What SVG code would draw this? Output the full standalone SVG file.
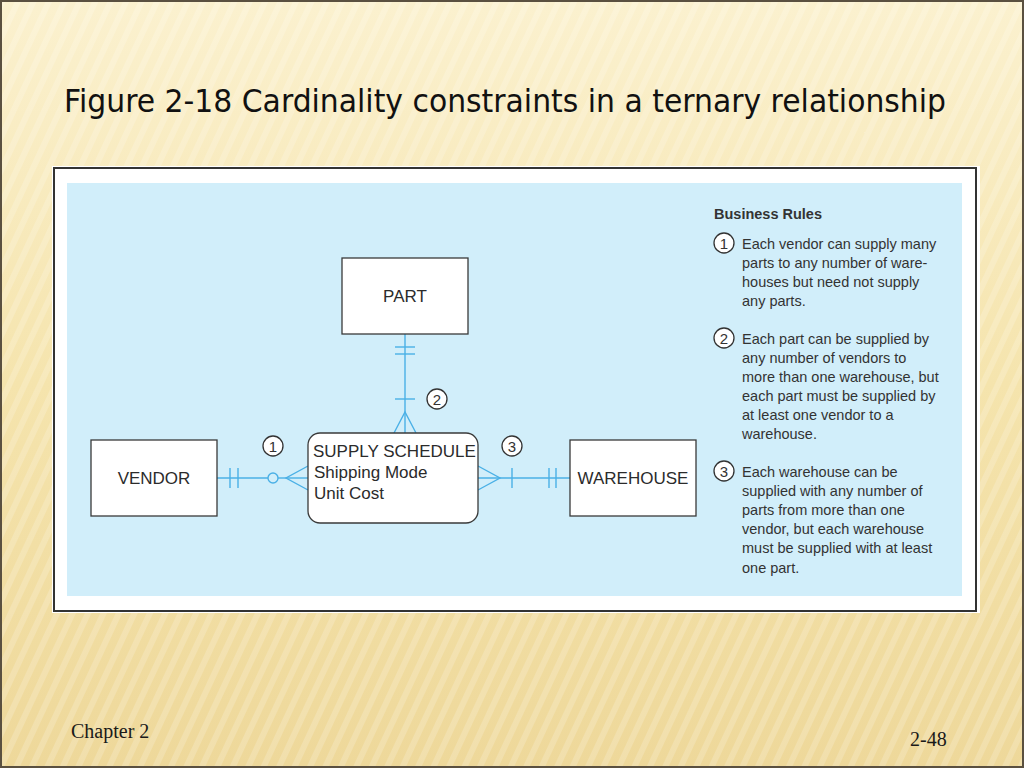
<svg xmlns="http://www.w3.org/2000/svg" width="1024" height="768" viewBox="0 0 1024 768">
<defs>
<linearGradient id="bg" x1="0" y1="0" x2="0" y2="1">
<stop offset="0" stop-color="#fbf1cf"/>
<stop offset="0.5" stop-color="#f5e4ad"/>
<stop offset="1" stop-color="#eed89a"/>
</linearGradient>
<pattern id="stripes" width="14" height="14" patternUnits="userSpaceOnUse" patternTransform="rotate(25)">
<rect width="6" height="14" fill="#ffffff" opacity="0.18"/>
</pattern>
<style>
.ent{fill:#ffffff;stroke:#3a3a3a;stroke-width:1.3}
.lbl{font-family:"Liberation Sans",Arial,sans-serif;font-size:17px;fill:#2b2b2b}
.con{stroke:#4ab0e6;stroke-width:1.4;fill:none}
.num{fill:#ffffff;stroke:#333333;stroke-width:1.3}
.numt{font-family:"Liberation Sans",Arial,sans-serif;font-size:15px;fill:#333333;text-anchor:middle}
.rule{font-family:"Liberation Sans",Arial,sans-serif;font-size:14.5px;fill:#333333}
.foot{font-family:"Liberation Serif","Times New Roman",serif;font-size:20px;fill:#1a1a1a}
</style>
</defs>
<rect width="1024" height="768" fill="url(#bg)"/>
<rect width="1024" height="768" fill="url(#stripes)"/>
<rect x="1" y="1" width="1022" height="766" fill="none" stroke="#5a5040" stroke-width="2"/>
<text x="64" y="112" font-family="DejaVu Sans,Verdana,sans-serif" font-size="32" fill="#111111" textLength="882" lengthAdjust="spacingAndGlyphs">Figure 2-18 Cardinality constraints in a ternary relationship</text>
<rect x="52" y="166" width="928" height="447" fill="#ffffff"/>
<rect x="54" y="168" width="922" height="443" fill="#ffffff" stroke="#333333" stroke-width="2"/>
<rect x="67" y="183" width="895" height="413" fill="#d1eefa"/>
<g id="connectors">
<g id="c-part">
<line class="con" x1="405" y1="334" x2="405" y2="433"/>
<line class="con" x1="395" y1="347" x2="415" y2="347"/>
<line class="con" x1="395" y1="354" x2="415" y2="354"/>
<line class="con" x1="395" y1="399" x2="415" y2="399"/>
<polyline class="con" points="394,433 405,412 416,433"/>
</g>
<g id="c-vendor">
<line class="con" x1="217" y1="478" x2="268" y2="478"/>
<line class="con" x1="278" y1="478" x2="308" y2="478"/>
<line class="con" x1="230" y1="468" x2="230" y2="488"/>
<line class="con" x1="238" y1="468" x2="238" y2="488"/>
<circle class="con" cx="273" cy="478" r="5"/>
<polyline class="con" points="308,466 286,478 308,490"/>
</g>
<g id="c-warehouse">
<line class="con" x1="478" y1="478" x2="570" y2="478"/>
<polyline class="con" points="478,466 500,478 478,490"/>
<line class="con" x1="512" y1="468" x2="512" y2="488"/>
<line class="con" x1="549" y1="468" x2="549" y2="488"/>
<line class="con" x1="556" y1="468" x2="556" y2="488"/>
</g>
</g>
<g id="part">
<rect class="ent" x="342" y="258" width="126" height="76"/>
<text class="lbl" x="405" y="302" text-anchor="middle">PART</text>
</g>
<g id="vendor">
<rect class="ent" x="91" y="440" width="126" height="76"/>
<text class="lbl" x="154" y="484" text-anchor="middle">VENDOR</text>
</g>
<g id="warehouse">
<rect class="ent" x="570" y="440" width="126" height="76"/>
<text class="lbl" x="633" y="484" text-anchor="middle">WAREHOUSE</text>
</g>
<g id="supply-schedule">
<rect class="ent" x="308" y="433" width="170" height="90" rx="12"/>
<text class="lbl" x="313" y="457">SUPPLY SCHEDULE</text>
<text class="lbl" x="314" y="478">Shipping Mode</text>
<text class="lbl" x="314" y="499">Unit Cost</text>
</g>
<g id="marker-1"><circle class="num" cx="273" cy="446" r="10"/><text class="numt" x="273" y="451.5">1</text></g>
<g id="marker-2"><circle class="num" cx="437" cy="399" r="10"/><text class="numt" x="437" y="404.5">2</text></g>
<g id="marker-3"><circle class="num" cx="512" cy="446" r="10"/><text class="numt" x="512" y="451.5">3</text></g>
<g id="business-rules">
<text x="714" y="219" font-family="Liberation Sans,Arial,sans-serif" font-size="14.5" font-weight="bold" fill="#333333">Business Rules</text>
<circle class="num" cx="724" cy="243" r="10"/><text class="numt" x="724" y="248.5">1</text>
<text class="rule" x="742" y="249">Each vendor can supply many</text>
<text class="rule" x="742" y="268">parts to any number of ware-</text>
<text class="rule" x="742" y="287">houses but need not supply</text>
<text class="rule" x="742" y="306">any parts.</text>
<circle class="num" cx="724" cy="338" r="10"/><text class="numt" x="724" y="343.5">2</text>
<text class="rule" x="742" y="344">Each part can be supplied by</text>
<text class="rule" x="742" y="363">any number of vendors to</text>
<text class="rule" x="742" y="382">more than one warehouse, but</text>
<text class="rule" x="742" y="401">each part must be supplied by</text>
<text class="rule" x="742" y="420">at least one vendor to a</text>
<text class="rule" x="742" y="439">warehouse.</text>
<circle class="num" cx="724" cy="471" r="10"/><text class="numt" x="724" y="476.5">3</text>
<text class="rule" x="742" y="477">Each warehouse can be</text>
<text class="rule" x="742" y="496">supplied with any number of</text>
<text class="rule" x="742" y="515">parts from more than one</text>
<text class="rule" x="742" y="534">vendor, but each warehouse</text>
<text class="rule" x="742" y="553">must be supplied with at least</text>
<text class="rule" x="742" y="573">one part.</text>
</g>
<text class="foot" x="71" y="738">Chapter 2</text>
<text class="foot" x="910" y="746">2-48</text>
</svg>
